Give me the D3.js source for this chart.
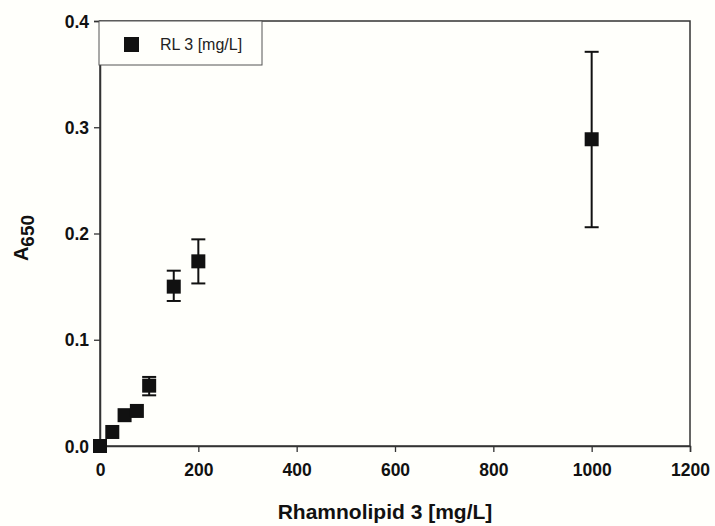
<!DOCTYPE html>
<html><head><meta charset="utf-8">
<script src="https://cdn.jsdelivr.net/npm/d3@7"></script>
<style>body{margin:0;background:#fffffb;}svg{display:block;}</style>
</head><body>
<script>
const concentrations = [0, 25, 50, 75, 100, 150, 200, 1000];
const absorbance = [0.0, 0.0132, 0.029, 0.033, 0.0568, 0.150, 0.1738, 0.2887];
const errLow = [0.0, 0.0132, 0.029, 0.033, 0.0477, 0.1365, 0.153, 0.2059];
const errHigh = [0.0, 0.0132, 0.029, 0.033, 0.065, 0.165, 0.1945, 0.371];
const xTicks = [0, 200, 400, 600, 800, 1000, 1200];
const yTicks = [0.0, 0.1, 0.2, 0.3, 0.4];
const seriesName = "RL 3 [mg/L]";

const W = 715, H = 526;
const FONT = "'Liberation Sans', Arial, sans-serif";
const svg = d3.select("body").append("svg").attr("width", W).attr("height", H);
svg.append("rect").attr("width", W).attr("height", H).attr("fill", "#fffffb");

const x = d3.scaleLinear().domain([0, 1200]).range([100, 690]);
const y = d3.scaleLinear().domain([0, 0.4]).range([446, 21]);

// frame
svg.append("rect").attr("x", x(0)).attr("y", y(0.4))
  .attr("width", x(1200) - x(0)).attr("height", y(0) - y(0.4))
  .attr("fill", "none").attr("stroke", "#333").attr("stroke-width", 1.5);

const xAxis = svg.append("g").attr("transform", `translate(0,${y(0)})`)
  .call(d3.axisBottom(x).tickValues(xTicks).tickFormat(d3.format("d")).tickSize(6).tickPadding(9));
const yAxis = svg.append("g").attr("transform", `translate(${x(0)},0)`)
  .call(d3.axisLeft(y).tickValues(yTicks).tickFormat(d3.format(".1f")).tickSize(6).tickPadding(5));
[xAxis, yAxis].forEach(g => {
  g.select(".domain").attr("stroke", "#333").attr("stroke-width", 1.5);
  g.selectAll(".tick line").attr("stroke", "#333").attr("stroke-width", 1.3);
  g.selectAll("text").attr("font-family", FONT)
    .attr("font-size", 17.5).attr("font-weight", "bold").attr("fill", "#111");
});
xAxis.selectAll("text").attr("dy", "0.85em");
yAxis.selectAll("text").attr("dy", "0.35em");

// titles
svg.append("text").attr("x", 385).attr("y", 519).attr("text-anchor", "middle")
  .attr("font-family", FONT).attr("font-size", 21)
  .attr("font-weight", "bold").attr("fill", "#111").text("Rhamnolipid 3 [mg/L]");
const yt = svg.append("text").attr("transform", `translate(28,238) rotate(-90)`)
  .attr("text-anchor", "middle")
  .attr("font-family", FONT).attr("font-size", 20)
  .attr("font-weight", "bold").attr("fill", "#111");
yt.append("tspan").text("A");
yt.append("tspan").attr("dy", 6).attr("font-size", 19).text("650");

// error bars
const cap = 7;
const eb = svg.append("g").attr("stroke", "#111").attr("stroke-width", 2);
concentrations.forEach((c, i) => {
  if (errHigh[i] - errLow[i] <= 0) return;
  eb.append("line").attr("x1", x(c)).attr("x2", x(c)).attr("y1", y(errLow[i])).attr("y2", y(errHigh[i]));
  [errLow[i], errHigh[i]].forEach(v => eb.append("line")
    .attr("x1", x(c) - cap).attr("x2", x(c) + cap).attr("y1", y(v)).attr("y2", y(v)));
});

// markers
const s = 14;
svg.append("g").selectAll("rect").data(concentrations).join("rect")
  .attr("x", d => x(d) - s/2).attr("y", (d, i) => y(absorbance[i]) - s/2)
  .attr("width", s).attr("height", s).attr("fill", "#111");

// legend
const lg = svg.append("g");
lg.append("rect").attr("x", 99).attr("y", 21).attr("width", 163).attr("height", 44)
  .attr("fill", "#fffffb").attr("stroke", "#555").attr("stroke-width", 1);
lg.append("rect").attr("x", 131 - 7).attr("y", 44 - 7).attr("width", 15).attr("height", 15).attr("fill", "#111");
lg.append("text").attr("x", 160).attr("y", 50).attr("font-family", FONT)
  .attr("font-size", 16).attr("fill", "#222").text(seriesName);
</script>
</body></html>
